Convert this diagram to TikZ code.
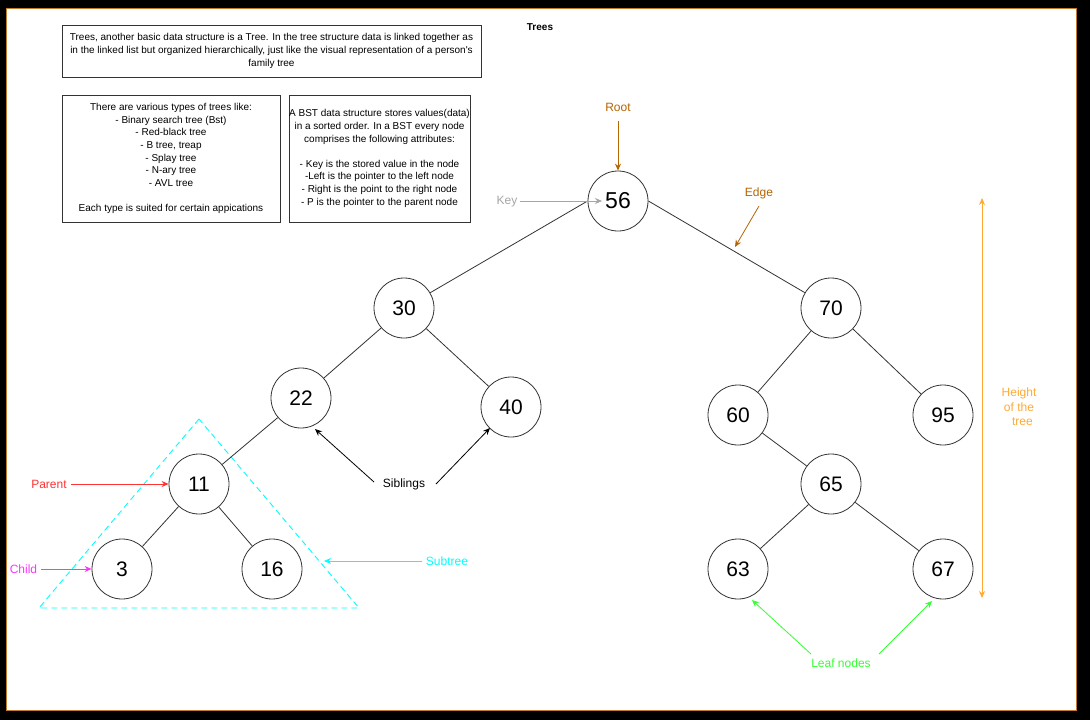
\documentclass[tikz,border=0pt]{standalone}
\usepackage{fontspec}
\setmainfont{Liberation Sans}
\usetikzlibrary{arrows.meta}
\definecolor{edgec}{HTML}{333333}
\definecolor{rootc}{HTML}{B46504}
\definecolor{keyc}{HTML}{A6A6A6}
\definecolor{parentc}{HTML}{FF3333}
\definecolor{childc}{HTML}{FF33FF}
\definecolor{subc}{HTML}{00FFFF}
\definecolor{leafc}{HTML}{33FF33}
\definecolor{heightc}{HTML}{FFAA33}
\definecolor{framec}{HTML}{C47A2C}
\begin{document}
\begin{tikzpicture}[x=1pt,y=-1pt,
  tnode/.style={circle, draw=edgec, fill=white, line width=0.8pt, minimum size=60pt, inner sep=0pt, font=\fontsize{21}{25}\selectfont},
  tbox/.style={draw=edgec, line width=0.8pt, inner sep=0pt},
  btext/.style={align=center, inner sep=0pt, font=\fontsize{10}{12.6}\selectfont},
  tedge/.style={draw=edgec, line width=0.8pt},
  lbl/.style={font=\fontsize{12}{14.4}\selectfont, inner sep=1pt},
  arr/.style={-{Stealth[length=7pt,width=6pt]}, line width=0.8pt},
]
\useasboundingbox (0,0) rectangle (1090,720);
\fill[black] (0,0) rectangle (1090,720);
\filldraw[fill=white, draw=framec, line width=0.8pt] (6.5,8) rectangle (1076,710.5);

% title
\node[font=\bfseries\fontsize{10}{12}\selectfont] (title) at (540,27) {Trees};

% text boxes
\node[tbox, minimum width=419pt, minimum height=52pt] (b1) at (271.5,51) {};
\node[btext, font=\fontsize{10}{13}\selectfont] (t1) at (b1) {Trees, another basic data structure is a Tree. In the tree structure data is linked together as\\in the linked list but organized hierarchically, just like the visual representation of a person\textquotesingle s\\family tree};

\node[tbox, minimum width=218pt, minimum height=127pt] (b2) at (171,158.5) {};
\node[btext] (t2) at (b2) {There are various types of trees like:\\- Binary search tree (Bst)\\- Red-black tree\\- B tree, treap\\- Splay tree\\- N-ary tree\\- AVL tree\\[12.6pt]Each type is suited for certain appications};

\node[tbox, minimum width=181pt, minimum height=127pt] (b3) at (379.5,158.5) {};
\node[btext] (t3) at (b3) {A BST data structure stores values(data)\\in a sorted order. In a BST every node\\comprises the following attributes:\\[12.6pt]- Key is the stored value in the node\\-Left is the pointer to the left node\\- Right is the point to the right node\\- P is the pointer to the parent node};

% subtree triangle
\draw[subc, line width=0.9pt, dash pattern=on 6pt off 4pt] (199,419) -- (39,608) -- (359,608) -- cycle;

% tree nodes
\node[tnode, font=\fontsize{23}{27}\selectfont] (n56) at (618,201) {56};
\node[tnode] (n30) at (404,308) {30};
\node[tnode] (n70) at (831,308) {70};
\node[tnode] (n22) at (301,398) {22};
\node[tnode] (n40) at (511,407) {40};
\node[tnode] (n60) at (738,415) {60};
\node[tnode] (n95) at (943,415) {95};
\node[tnode] (n11) at (199,484) {11};
\node[tnode] (n3) at (122,569) {3};
\node[tnode] (n16) at (272,569) {16};
\node[tnode] (n65) at (831,484) {65};
\node[tnode] (n63) at (738,569) {63};
\node[tnode] (n67) at (943,569) {67};

% tree edges
\draw[tedge] (n56.west) -- (n30);
\draw[tedge] (n56.east) -- (n70);
\draw[tedge] (n30) -- (n22);
\draw[tedge] (n30) -- (n40);
\draw[tedge] (n22) -- (n11);
\draw[tedge] (n11) -- (n3);
\draw[tedge] (n11) -- (n16);
\draw[tedge] (n70) -- (n60);
\draw[tedge] (n70) -- (n95);
\draw[tedge] (n60) -- (n65);
\draw[tedge] (n65) -- (n63);
\draw[tedge] (n65) -- (n67);

% Root
\node[lbl, text=rootc] (root) at (618,107) {Root};
\coordinate (rootS) at (618,121);
\draw[arr, rootc] (rootS) -- (n56.north);

% Key
\node[lbl, text=keyc] (key) at (507,202) {Key};
\coordinate (keyS) at (520,201);
\coordinate (keyE) at (602,201);
\draw[arr, keyc] (keyS) -- (keyE);

% Edge
\node[lbl, text=rootc] (edge) at (759,193) {Edge};
\coordinate (edgeS) at (759,206);
\coordinate (edgeE) at (735,247);
\draw[arr, rootc] (edgeS) -- (edgeE);

% Siblings
\node[lbl] (sib) at (404,484) {Siblings};
\coordinate (sibL) at (374,482);
\coordinate (sibR) at (436,484);
\coordinate (sibLE) at (315,429);
\coordinate (sibRE) at (490,428);
\draw[arr, black] (sibL) -- (sibLE);
\draw[arr, black] (sibR) -- (sibRE);

% Parent
\node[lbl, text=parentc] (parent) at (49,484) {Parent};
\coordinate (parS) at (71,484);
\draw[arr, parentc] (parS) -- (n11.west);

% Child
\node[lbl, text=childc] (child) at (23.5,569) {Child};
\coordinate (chS) at (41,569);
\draw[arr, childc] (chS) -- (n3.west);

% Subtree
\node[lbl, text=subc] (subt) at (447,561) {Subtree};
\coordinate (subS) at (422,561);
\coordinate (subE) at (324,561);
\draw[arr, subc] (subS) -- (subE);

% Leaf nodes
\node[lbl, text=leafc] (leaf) at (841,663) {Leaf nodes};
\coordinate (leafL) at (811,654);
\coordinate (leafR) at (879,654);
\coordinate (leafLE) at (752,600);
\coordinate (leafRE) at (932,601);
\draw[arr, leafc] (leafL) -- (leafLE);
\draw[arr, leafc] (leafR) -- (leafRE);

% Height
\coordinate (hTop) at (982,198);
\coordinate (hBot) at (982,598);
\draw[{Stealth[length=7pt,width=6pt]}-{Stealth[length=7pt,width=6pt]}, line width=0.9pt, heightc] (hTop) -- (hBot);
\node[lbl, text=heightc, align=center] (hlbl) at (1019,407) {Height\\of the\\\ \ tree};
\end{tikzpicture}
\end{document}
